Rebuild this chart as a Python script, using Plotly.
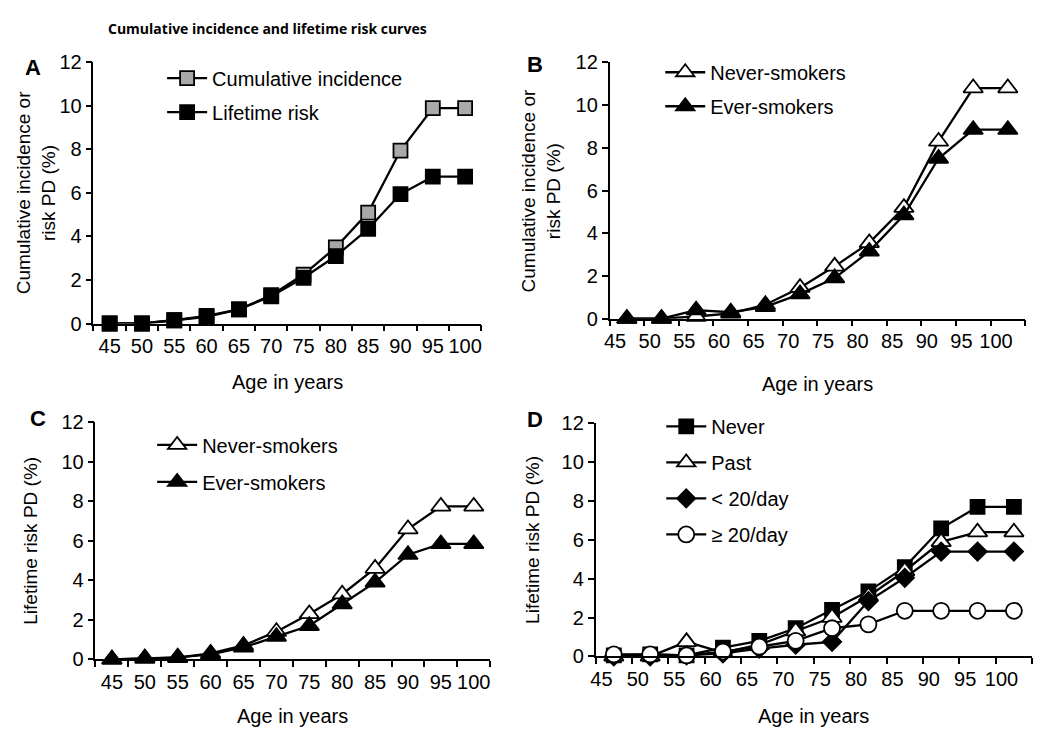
import plotly.graph_objects as go

# ages shown on the x axes (5-year bands)
ages = [45, 50, 55, 60, 65, 70, 75, 80, 85, 90, 95, 100]

# panel A
a_cumulative = [0, 0, 0.15, 0.35, 0.65, 1.3, 2.25, 3.5, 5.1, 7.95, 9.9, 9.9]
a_lifetime = [0, 0, 0.15, 0.3, 0.65, 1.25, 2.1, 3.1, 4.35, 5.95, 6.75, 6.75]
# panel B (cumulative incidence / risk by smoking)
b_never = [0, 0, 0.1, 0.25, 0.65, 1.45, 2.45, 3.55, 5.2, 8.3, 10.8, 10.8]
b_ever = [0, 0, 0.4, 0.3, 0.55, 1.15, 1.9, 3.15, 4.85, 7.5, 8.85, 8.85]
# panel C (lifetime risk by smoking)
c_never = [0, 0.05, 0.08, 0.3, 0.7, 1.4, 2.3, 3.3, 4.6, 6.6, 7.75, 7.75]
c_ever = [0, 0.05, 0.1, 0.25, 0.6, 1.15, 1.7, 2.8, 3.9, 5.3, 5.85, 5.85]
# panel D (lifetime risk by smoking intensity)
d_never = [0.05, 0.1, 0.05, 0.45, 0.8, 1.45, 2.4, 3.35, 4.6, 6.6, 7.7, 7.7]
d_past = [0, 0, 0.75, 0.2, 0.6, 1.3, 2.0, 3.1, 4.4, 5.9, 6.4, 6.4]
d_lt20 = [0, 0, 0.05, 0.15, 0.4, 0.6, 0.75, 2.85, 4.05, 5.4, 5.4, 5.4]
d_ge20 = [0.1, 0.1, 0.05, 0.25, 0.5, 0.8, 1.45, 1.65, 2.35, 2.35, 2.35, 2.35]

W, H = 1050, 746
FONT = "Liberation Sans, Arial, sans-serif"

# B and D plot their points in the middle of each band
ages_mid = [a + 2.5 for a in ages]

fig = go.Figure()


def add(ax, x, y, name, symbol, fill, size, legend):
    fig.add_trace(go.Scatter(
        x=x, y=y, mode="lines+markers", name=name,
        xaxis="x" + ax, yaxis="y" + ax, legend=legend, legendgroup=legend + name,
        line=dict(color="black", width=2.3),
        marker=dict(symbol=symbol, size=size, color=fill, line=dict(color="black", width=1.8)),
        cliponaxis=False,
    ))


add("", ages, a_cumulative, "Cumulative incidence", "square", "#a9a9a9", 14, "legend")
add("", ages, a_lifetime, "Lifetime risk", "square", "black", 14, "legend")
add("2", ages_mid, b_never, "Never-smokers", "triangle-up", "white", 17, "legend2")
add("2", ages_mid, b_ever, "Ever-smokers", "triangle-up", "black", 17, "legend2")
add("3", ages, c_never, "Never-smokers", "triangle-up", "white", 17, "legend3")
add("3", ages, c_ever, "Ever-smokers", "triangle-up", "black", 17, "legend3")
add("4", ages_mid, d_never, "Never", "square", "black", 14, "legend4")
add("4", ages_mid, d_past, "Past", "triangle-up", "white", 17, "legend4")
add("4", ages_mid, d_lt20, "< 20/day", "diamond", "black", 14, "legend4")
add("4", ages_mid, d_ge20, "\u2265 20/day", "circle", "white", 16, "legend4")


def px_x(a, b):
    return [a / W, b / W]


def px_y(bottom, top):
    return [1 - bottom / H, 1 - top / H]


def xax(dom, centered, anchor):
    if centered:
        rng = [42.5, 102.5]
        labpos = ages
        bounds = [42.5 + 5 * i for i in range(13)]
    else:
        rng = [45, 105]
        labpos = [a + 0.8 for a in ages]
        bounds = [45 + 5 * i for i in range(13)]
    return dict(domain=dom, anchor=anchor, range=rng, tickmode="array",
                tickvals=labpos, ticktext=[str(a) for a in ages], ticks="",
                ticklabelstandoff=4,
                showline=True, linecolor="black", linewidth=1.5,
                minor=dict(tickmode="array", tickvals=bounds, ticks="outside",
                           ticklen=6, tickwidth=1.5, tickcolor="black", showgrid=False),
                tickfont=dict(size=20, color="black"), showgrid=False, zeroline=False)


def yax(dom, anchor):
    return dict(domain=dom, anchor=anchor, range=[0, 12], tickmode="linear", tick0=0, dtick=2,
                ticks="outside", ticklen=6, tickwidth=1.5, tickcolor="black",
                showline=True, linecolor="black", linewidth=1.5,
                tickfont=dict(size=20, color="black"), showgrid=False, zeroline=False)


def leg(x, y, gap):
    return dict(x=x / W, y=1 - y / H, xanchor="left", yanchor="top",
                bgcolor="rgba(0,0,0,0)", font=dict(size=20, color="black", family=FONT),
                traceorder="grouped", tracegroupgap=gap, itemwidth=40)


annotations = []


def text(x, y, s, size=20, bold=False, angle=0, family=FONT):
    annotations.append(dict(x=x / W, y=1 - y / H, xref="paper", yref="paper", text=s,
                            xanchor="center", yanchor="middle",
                            showarrow=False, textangle=angle,
                            font=dict(size=size, color="black", family=family,
                                      weight="bold" if bold else "normal")))


text(263, 18, "Cumulative incidence and lifetime risk curves", size=14, bold=True,
     family="Open Sans, sans-serif")
for lab, x, y in [("A", 27, 58), ("B", 532, 55), ("C", 32, 420), ("D", 532, 421)]:
    text(x, y, lab, size=22, bold=True)
text(283, 382, "Age in years")
text(816, 384, "Age in years")
text(288, 726, "Age in years")
text(812, 726, "Age in years")
text(31, 187, "Cumulative incidence or<br>risk PD (%)", size=19, angle=-90)
text(538, 185, "Cumulative incidence or<br>risk PD (%)", size=19, angle=-90)
text(25, 546, "Lifetime risk PD (%)", size=19, angle=-90)
text(530, 545, "Lifetime risk PD (%)", size=19, angle=-90)

fig.update_layout(
    width=W, height=H, autosize=False,
    margin=dict(l=0, r=0, t=0, b=0),
    paper_bgcolor="white", plot_bgcolor="white",
    font=dict(family=FONT, color="black"),
    xaxis=xax(px_x(88, 478), True, "y"), yaxis=yax(px_y(322, 53), "x"),
    xaxis2=xax(px_x(607, 1025), False, "y2"), yaxis2=yax(px_y(317, 53), "x2"),
    xaxis3=xax(px_x(90, 487), True, "y3"), yaxis3=yax(px_y(668, 424), "x3"),
    xaxis4=xax(px_x(593, 1032), False, "y4"), yaxis4=yax(px_y(665, 425), "x4"),
    legend=leg(157, 49, 5), legend2=leg(658, 43, 5),
    legend3=leg(147, 427, 8), legend4=leg(659, 408, 7),
    annotations=annotations,
)

# pin the graph to the top-left corner of the window
pin = ("var gd = document.getElementById('{plot_id}');"
       "document.documentElement.style.margin='0'; document.body.style.margin='0';"
       "document.documentElement.style.overflow='hidden'; document.body.style.overflow='hidden';"
       "gd.style.position='fixed'; gd.style.left='0px'; gd.style.top='0px';")

fig.write_html("out.html", config={"displayModeBar": False}, post_script=pin)
